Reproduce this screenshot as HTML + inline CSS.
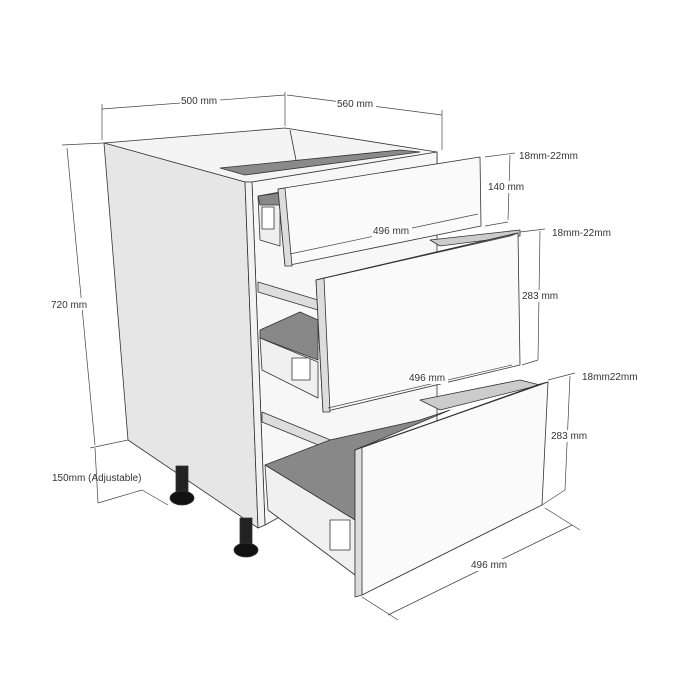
<!DOCTYPE html>
<html><head><style>
html,body{margin:0;padding:0;background:#fff}
svg{display:block}
text{font-family:"Liberation Sans",sans-serif;font-size:10px;fill:#333}
</style></head><body>
<svg width="700" height="700" viewBox="0 0 700 700" xmlns="http://www.w3.org/2000/svg">
<g stroke="#333" stroke-width="0.8" stroke-linejoin="round">
<!-- top interior -->
<polygon points="104,143 285,128 437,152 437,162 252,182 245,182" fill="#f4f4f4"/>
<polygon points="220,168 400,150 420,152 245,175" fill="#8a8a8a"/>
<polygon points="300,175 420,160 420,166 300,181" fill="#bbb"/>
<line x1="290" y1="130" x2="296" y2="160" />
<!-- cabinet interior right column -->
<polygon points="252,182 437,152 437,430 265,525" fill="#f7f7f7"/>
<!-- side panel -->
<polygon points="104,143 245,182 258,528 128,440" fill="#e6e6e6"/>
<polygon points="245,182 252,182 265,525 258,528" fill="#f2f2f2"/>
<!-- legs -->
<rect x="176" y="466" width="12" height="28" fill="#222"/>
<ellipse cx="182" cy="498" rx="12" ry="7" fill="#111"/>
<rect x="240" y="518" width="12" height="28" fill="#222"/>
<ellipse cx="246" cy="550" rx="12" ry="7" fill="#111"/>
<!-- drawer1 interior -->
<polygon points="258,196 280,192 280,246 260,240" fill="#eee"/>
<polygon points="258,196 280,193 280,205 260,205" fill="#888"/>
<rect x="262" y="207" width="12" height="22" fill="#fff"/>
<!-- drawer2 interior -->
<polygon points="258,282 318,300 318,310 258,292" fill="#ddd"/>
<polygon points="260,330 300,312 318,320 318,360 260,338" fill="#888"/>
<polygon points="260,338 318,362 318,398 262,370" fill="#f0f0f0"/>
<rect x="292" y="358" width="18" height="22" fill="#fff"/>
<polygon points="430,240 520,230 520,236 440,246" fill="#ccc"/>
<!-- drawer3 interior -->
<polygon points="262,412 355,450 355,460 262,422" fill="#ddd"/>
<polygon points="265,465 330,440 420,420 450,410 355,450 355,520" fill="#888"/>
<polygon points="265,465 355,520 355,575 268,510" fill="#f0f0f0"/>
<rect x="330" y="520" width="20" height="30" fill="#fff"/>
<polygon points="420,400 520,380 540,385 440,410" fill="#ccc"/>
<!-- drawer fronts -->
<polygon points="278,189 480,157 481,226 285,266" fill="#fafafa"/>
<polygon points="278,189 285,188 292,266 285,266" fill="#ddd"/>
<polygon points="316,280 518,233 520,365 323,412" fill="#fafafa"/>
<polygon points="316,280 324,278 330,412 323,412" fill="#ddd"/>
<polygon points="316,280 510,236 518,233 324,278" fill="#999"/>
<polygon points="355,450 548,382 542,505 362,595" fill="#fafafa"/>
<polygon points="355,450 362,447 362,595 355,597" fill="#ddd"/>
<polygon points="355,450 540,384 548,382 362,447" fill="#999"/>
</g>
<!-- dimension lines -->
<g stroke="#444" stroke-width="0.7" fill="none">
<line x1="102" y1="109" x2="285" y2="95"/><line x1="102" y1="104" x2="102" y2="140"/><line x1="285" y1="92" x2="285" y2="126"/>
<line x1="287" y1="95" x2="442" y2="115"/><line x1="442" y1="110" x2="442" y2="150"/>
<line x1="67" y1="148" x2="95" y2="445"/><line x1="62" y1="145" x2="104" y2="143"/>
<line x1="90" y1="448" x2="128" y2="440"/>
<line x1="95" y1="448" x2="98" y2="503"/><line x1="98" y1="503" x2="142" y2="490"/><line x1="142" y1="490" x2="168" y2="505"/>
<line x1="485" y1="157" x2="515" y2="153"/><line x1="510" y1="155" x2="508" y2="220"/><line x1="485" y1="226" x2="508" y2="222"/>
<line x1="290" y1="254" x2="478" y2="214"/>
<line x1="520" y1="232" x2="545" y2="229"/><line x1="540" y1="231" x2="538" y2="360"/><line x1="522" y1="365" x2="538" y2="360"/>
<line x1="328" y1="408" x2="512" y2="365"/>
<line x1="548" y1="380" x2="575" y2="373"/><line x1="570" y1="376" x2="565" y2="490"/><line x1="542" y1="505" x2="565" y2="490"/>
<line x1="362" y1="597" x2="398" y2="620"/><line x1="545" y1="508" x2="580" y2="530"/><line x1="388" y1="615" x2="572" y2="525"/>
</g>
<g>
<rect x="180" y="95" width="40" height="11" fill="#fff"/><text x="181" y="104">500 mm</text>
<rect x="336" y="97" width="40" height="11" fill="#fff"/><text x="337" y="107">560 mm</text>
<rect x="50" y="298" width="42" height="12" fill="#fff"/><text x="51" y="308">720 mm</text>
<text x="52" y="481">150mm (Adjustable)</text>
<text x="519" y="159">18mm-22mm</text>
<rect x="487" y="181" width="40" height="12" fill="#fff"/><text x="488" y="190">140 mm</text>
<text x="552" y="236">18mm-22mm</text>
<rect x="520" y="290" width="40" height="12" fill="#fff"/><text x="522" y="299">283 mm</text>
<text x="582" y="380">18mm22mm</text>
<rect x="550" y="430" width="40" height="12" fill="#fff"/><text x="551" y="439">283 mm</text>
<rect x="372" y="225" width="40" height="12" fill="#fff"/><text x="373" y="234">496 mm</text>
<rect x="408" y="372" width="40" height="12" fill="#fff"/><text x="409" y="381">496 mm</text>
<rect x="470" y="559" width="40" height="12" fill="#fff"/><text x="471" y="568">496 mm</text>
</g>
</svg>
</body></html>
